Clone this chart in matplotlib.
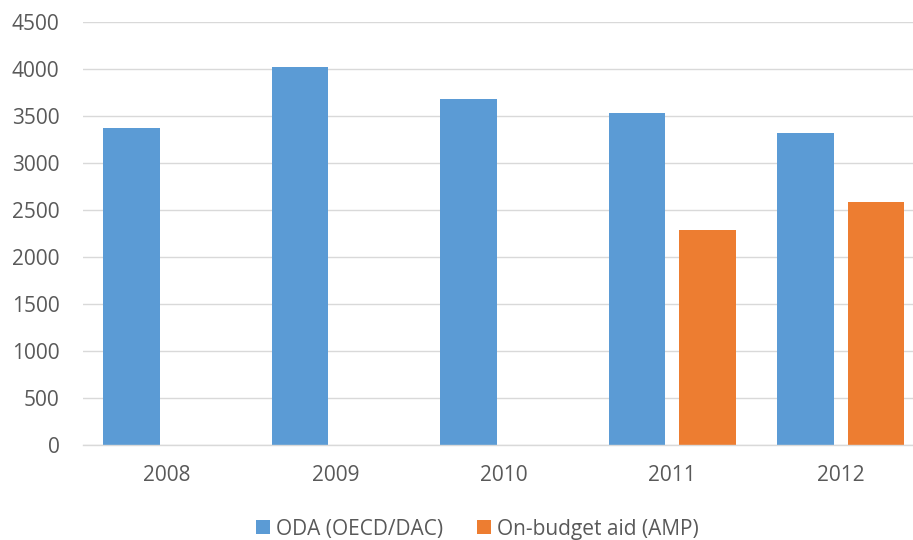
import matplotlib
matplotlib.use("Agg")
import matplotlib.pyplot as plt
import numpy as np

years = ["2008", "2009", "2010", "2011", "2012"]
oda = [3375, 4018, 3678, 3529, 3323]
amp = [0, 0, 0, 2287, 2585]
series_names = ["ODA (OECD/DAC)", "On-budget aid (AMP)"]
y_ticks = [0, 500, 1000, 1500, 2000, 2500, 3000, 3500, 4000, 4500]

BLUE = "#5B9BD5"
ORANGE = "#ED7D31"
GRID = "#D9D9D9"
TEXT = "#595959"

plt.rcParams["font.family"] = ["Open Sans", "DejaVu Sans"]

W, H = 913, 540
fig = plt.figure(figsize=(W / 100, H / 100), dpi=100)
left, right, bottom, top = 82.5, 925.0, 445.0, 22.0
ax = fig.add_axes([left / W, 1 - bottom / H, (right - left) / W, (bottom - top) / H])

x = np.arange(len(years))
bw = 0.335
off = 0.21
ax.bar(x - off, oda, width=bw, color=BLUE, label=series_names[0], zorder=3)
ax.bar(x + off, amp, width=bw, color=ORANGE, label=series_names[1], zorder=3)

ax.set_xlim(-0.5, len(years) - 0.5)
ax.set_ylim(0, 4500)
ax.set_yticks(y_ticks)
ax.set_yticklabels([str(v) for v in y_ticks])
ax.set_xticks(x)
ax.set_xticklabels(years)

ax.grid(axis="y", color=GRID, linewidth=1.0, zorder=0)
for s in ["top", "right", "left"]:
    ax.spines[s].set_visible(False)
ax.spines["bottom"].set_color(GRID)
ax.spines["bottom"].set_linewidth(1.0)
ax.spines["bottom"].set_zorder(4)

FS = 15
ax.tick_params(axis="both", length=0, labelsize=FS, colors=TEXT)
ax.tick_params(axis="y", pad=16.5)
ax.tick_params(axis="x", pad=14.5)

leg = fig.legend(loc="center", bbox_to_anchor=(477.5 / W, 1 - 529 / H),
                 ncol=2, frameon=False, fontsize=FS,
                 handlelength=0.68, handleheight=0.68, handletextpad=0.3,
                 columnspacing=1.6, borderaxespad=0, borderpad=0)
for t in leg.get_texts():
    t.set_color(TEXT)

fig.savefig("out.png", dpi=100)
